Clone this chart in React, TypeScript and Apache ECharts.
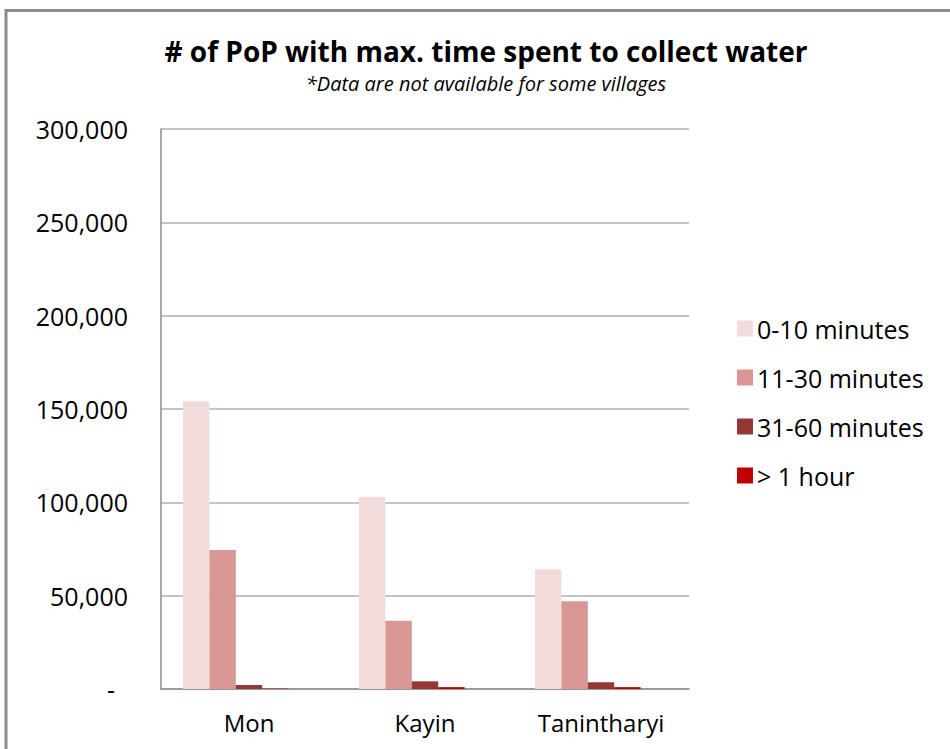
import React, { useEffect, useRef } from "react";
import * as echarts from "echarts";

const categories = ["Mon", "Kayin", "Tanintharyi"];
const seriesNames = ["0-10 minutes", "11-30 minutes", "31-60 minutes", "> 1 hour"];
const min0to10 = [154000, 103000, 64000];
const min11to30 = [74500, 36600, 47000];
const min31to60 = [2100, 4100, 3600];
const over1hour = [200, 1000, 1000];
const emptySlot = [null, null, null];
const colors = ["#f2dcdb", "#d99694", "#953735", "#c00000"];

const FONT = "'Open Sans', 'Noto Sans', sans-serif";

export default function App() {
  const ref = useRef<HTMLDivElement>(null);
  useEffect(() => {
    if (!ref.current) return;
    const chart = echarts.init(ref.current, null, { renderer: "svg" });
    const values = [min0to10, min11to30, min31to60, over1hour];
    const series: any[] = values.map((d, i) => ({
      name: seriesNames[i],
      type: "bar",
      data: d,
      barGap: "0%",
      barCategoryGap: "25%",
      itemStyle: { color: colors[i] },
    }));
    series.push({
      name: "",
      type: "bar",
      data: emptySlot,
      barGap: "0%",
      barCategoryGap: "25%",
    });
    chart.setOption({
      animation: false,
      backgroundColor: "#ffffff",
      textStyle: { fontFamily: FONT },
      title: {
        text: "# of PoP with max. time spent to collect water",
        subtext: "*Data are not available for some villages",
        left: 481,
        textAlign: "center",
        top: 31,
        itemGap: 6,
        textStyle: { fontFamily: FONT, fontSize: 28, lineHeight: 30, fontWeight: "bold", color: "#000" },
        subtextStyle: { fontFamily: FONT, fontSize: 20, lineHeight: 22, fontStyle: "italic", color: "#000" },
      },
      legend: {
        data: seriesNames,
        orient: "vertical",
        left: 737,
        top: 316,
        padding: 0,
        itemWidth: 16,
        itemHeight: 16,
        itemGap: 24,
        icon: "rect",
        textStyle: { fontFamily: FONT, fontSize: 25, color: "#000", padding: [0, 0, 0, -1] },
      },
      grid: { left: 161, top: 129, right: 261, bottom: 60, containLabel: false },
      xAxis: {
        type: "category",
        data: categories,
        axisLine: { show: true, lineStyle: { color: "#8c8c8c", width: 1.5 } },
        axisTick: { show: false },
        axisLabel: { fontFamily: FONT, fontSize: 24, color: "#000", margin: 21 },
      },
      yAxis: {
        type: "value",
        min: 0,
        max: 300000,
        interval: 50000,
        axisLine: { show: true, lineStyle: { color: "#8c8c8c", width: 1.5 } },
        axisTick: { show: false },
        splitLine: { show: true, lineStyle: { color: "#b0b0b0", width: 1.5 } },
        axisLabel: {
          fontFamily: FONT,
          fontSize: 25,
          color: "#000",
          margin: 33,
          formatter: (v: number) =>
            v === 0 ? "{d|-}" : v.toLocaleString("en-US"),
          rich: { d: { fontFamily: FONT, fontSize: 25, color: "#000", padding: [0, 13, 0, 0] } },
        },
      },
      graphic: [
        {
          type: "rect",
          shape: { x: 6, y: 10.5, width: 1000, height: 1000 },
          style: { fill: "none", stroke: "#8c8c8c", lineWidth: 3 },
          silent: true,
        },
      ],
      series,
    });
    return () => chart.dispose();
  }, []);
  return (
    <div
      ref={ref}
      style={{ position: "fixed", left: 0, top: 0, width: 950, height: 749 }}
    />
  );
}
